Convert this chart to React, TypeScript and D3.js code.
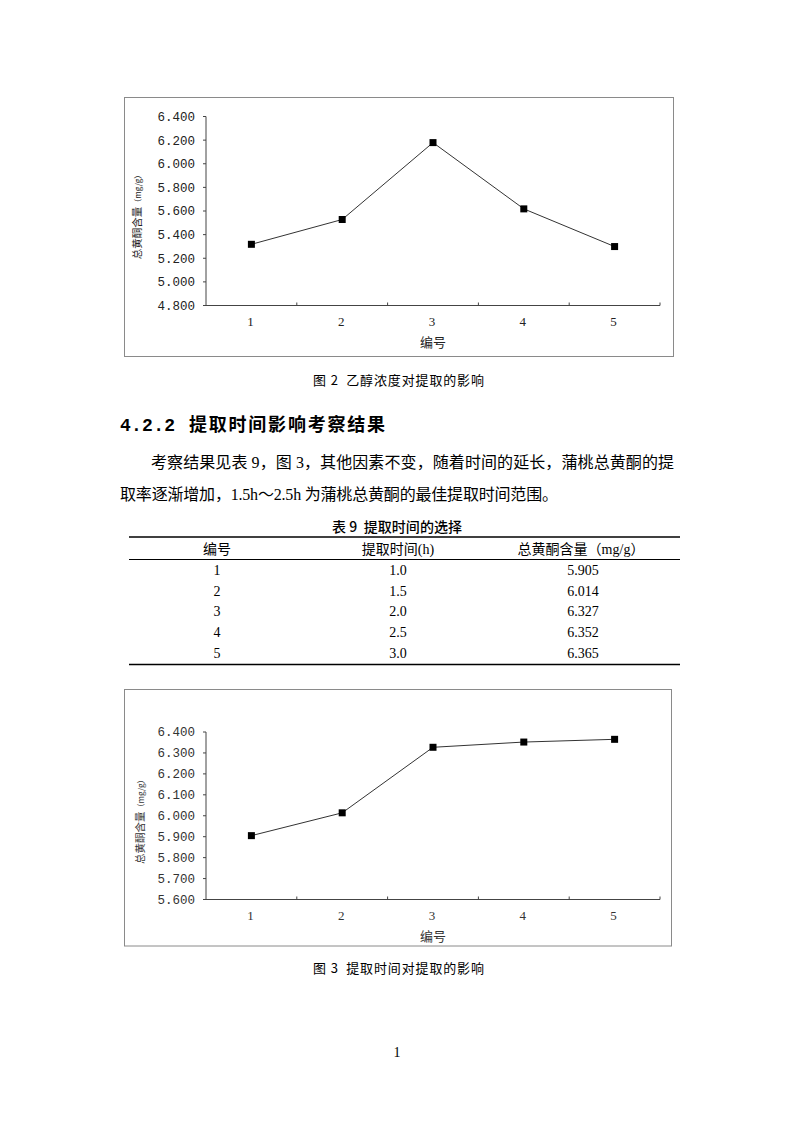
import React from "react";
import * as d3 from "d3";

const categories = ["1", "2", "3", "4", "5"];
const ethanolContent = [5.318, 5.528, 6.179, 5.618, 5.299];
const ethanolTicks = [4.8, 5.0, 5.2, 5.4, 5.6, 5.8, 6.0, 6.2, 6.4];
const timeHours = ["1.0", "1.5", "2.0", "2.5", "3.0"];
const timeContent = [5.905, 6.014, 6.327, 6.352, 6.365];
const timeTicks = [5.6, 5.7, 5.8, 5.9, 6.0, 6.1, 6.2, 6.3, 6.4];
const tableHeaders = ["编号", "提取时间(h)", "总黄酮含量（mg/g）"];

const CJK = '"Noto Sans CJK SC", sans-serif';
const SERIF = '"Liberation Serif", "Noto Sans CJK SC", serif';
const MONO = '"Liberation Mono", monospace';

type ChartProps = {
  frame: [number, number, number, number];
  plot: { left: number; right: number; top: number; bottom: number };
  ticks: number[];
  values: number[];
  yTitleX: number;
  labelColor: string;
};

function LineChart({ frame, plot, ticks, values, yTitleX, labelColor }: ChartProps) {
  const xs = d3.scaleBand<string>().domain(categories).range([plot.left, plot.right]);
  const ys = d3
    .scaleLinear()
    .domain([ticks[0], ticks[ticks.length - 1]])
    .range([plot.bottom, plot.top]);
  const cx = (i: number) => (xs(categories[i]) as number) + xs.bandwidth() / 2;
  const line = d3
    .line<number>()
    .x((_, i) => cx(i))
    .y((d) => ys(d));
  const fmt = d3.format(".3f");
  const [fx, fy, fw, fh] = frame;
  const midY = (plot.top + plot.bottom) / 2;
  const midX = (plot.left + plot.right) / 2;
  return (
    <g>
      <rect x={fx} y={fy} width={fw} height={fh} fill="#fff" stroke="#8a8a8a" strokeWidth={1} />
      <line x1={plot.left} x2={plot.left} y1={plot.top} y2={plot.bottom} stroke="#444" />
      {ticks.map((t) => (
        <g key={t}>
          <line x1={plot.left - 3} x2={plot.left} y1={ys(t)} y2={ys(t)} stroke="#444" />
          <text
            x={plot.left - 11}
            y={ys(t)}
            dy="0.35em"
            textAnchor="end"
            fontFamily={MONO}
            fontSize={12.5}
            fill={labelColor}
          >
            {fmt(t)}
          </text>
        </g>
      ))}
      <line x1={plot.left} x2={plot.right} y1={plot.bottom} y2={plot.bottom} stroke="#444" />
      {categories.map((c) => (
        <g key={c}>
          <line
            x1={(xs(c) as number) + xs.bandwidth()}
            x2={(xs(c) as number) + xs.bandwidth()}
            y1={plot.bottom - 3}
            y2={plot.bottom}
            stroke="#444"
          />
          <text
            x={(xs(c) as number) + xs.bandwidth() / 2 - 1}
            y={plot.bottom + 16}
            dy="0.35em"
            textAnchor="middle"
            fontFamily={SERIF}
            fontSize={13}
            fill={labelColor}
          >
            {c}
          </text>
        </g>
      ))}
      <text
        x={midX}
        y={plot.bottom + 37}
        dy="0.35em"
        textAnchor="middle"
        fontFamily={CJK}
        fontSize={13}
        fill={labelColor}
      >
        编号
      </text>
      <text
        transform={`translate(${yTitleX},${midY + 4}) rotate(-90)`}
        textAnchor="middle"
        dy="0.35em"
        fontFamily={CJK}
        fill={labelColor}
      >
        <tspan fontSize={10.5}>总黄酮含量</tspan>
        <tspan fontSize={8}>（mg/g）</tspan>
      </text>
      <path d={line(values) || ""} fill="none" stroke="#333" strokeWidth={1} />
      {values.map((v, i) => (
        <rect key={i} x={cx(i) - 3.5} y={ys(v) - 3.5} width={7} height={7} fill="#000" />
      ))}
    </g>
  );
}

export default function App() {
  const colX = [217, 398, 581];
  const rowY = [569.5, 590.5, 611, 632, 652.5];
  return (
    <svg
      width={794}
      height={1123}
      viewBox="0 0 794 1123"
      style={{ position: "absolute", left: 0, top: 0, background: "#fff" }}
    >
      <rect x={0} y={0} width={794} height={1123} fill="#fff" />
      <LineChart
        frame={[124.5, 97.5, 549, 259]}
        plot={{ left: 206, right: 660, top: 116.5, bottom: 305.5 }}
        ticks={ethanolTicks}
        values={ethanolContent}
        yTitleX={135}
        labelColor="#222"
      />
      <text x={313} y={385} fontFamily={CJK} fontSize={13} fill="#000" textLength={171} lengthAdjust="spacing" style={{ whiteSpace: "pre" }}>
        {"图 2  乙醇浓度对提取的影响"}
      </text>

      <text x={120} y={431} fontFamily={MONO} fontWeight="bold" fontSize={18} textLength={55} lengthAdjust="spacing" fill="#000">
        4.2.2
      </text>
      <text x={189} y={431} fontFamily={CJK} fontWeight="bold" fontSize={18} textLength={196} lengthAdjust="spacing" fill="#000">
        提取时间影响考察结果
      </text>

      <text x={151} y={468} fontFamily={SERIF} fontSize={16} textLength={523} lengthAdjust="spacing" fill="#000">
        考察结果见表 9，图 3，其他因素不变，随着时间的延长，蒲桃总黄酮的提
      </text>
      <text x={120} y={500} fontFamily={SERIF} fontSize={16} textLength={438} lengthAdjust="spacing" fill="#000">
        取率逐渐增加，1.5h～2.5h 为蒲桃总黄酮的最佳提取时间范围。
      </text>

      <text x={332} y={532} fontFamily={CJK} fontSize={14} fontWeight={500} fill="#000" textLength={130} lengthAdjust="spacing" style={{ whiteSpace: "pre" }}>
        {"表 9  提取时间的选择"}
      </text>
      <line x1={129} x2={680} y1={537} y2={537} stroke="#000" strokeWidth={1.5} />
      {tableHeaders.map((h, i) => (
        <text key={h} x={colX[i]} y={554} textAnchor="middle" fontFamily={SERIF} fontSize={14} fill="#000">
          {h}
        </text>
      ))}
      <line x1={129} x2={680} y1={559.5} y2={559.5} stroke="#000" strokeWidth={1} />
      {categories.map((c, i) => (
        <g key={c}>
          <text x={colX[0]} y={rowY[i] + 5} textAnchor="middle" fontFamily={SERIF} fontSize={14} fill="#000">
            {c}
          </text>
          <text x={colX[1]} y={rowY[i] + 5} textAnchor="middle" fontFamily={SERIF} fontSize={14} fill="#000">
            {timeHours[i]}
          </text>
          <text x={colX[2] + 2} y={rowY[i] + 5} textAnchor="middle" fontFamily={SERIF} fontSize={14} fill="#000">
            {d3.format(".3f")(timeContent[i])}
          </text>
        </g>
      ))}
      <line x1={129} x2={680} y1={664.5} y2={664.5} stroke="#000" strokeWidth={1.5} />

      <LineChart
        frame={[124.5, 689.5, 547, 256.5]}
        plot={{ left: 206, right: 660, top: 732, bottom: 899.5 }}
        ticks={timeTicks}
        values={timeContent}
        yTitleX={138}
        labelColor="#333"
      />
      <text x={313} y={973} fontFamily={CJK} fontSize={13} fill="#000" textLength={171} lengthAdjust="spacing" style={{ whiteSpace: "pre" }}>
        {"图 3  提取时间对提取的影响"}
      </text>
      <text x={397} y={1057} textAnchor="middle" fontFamily={SERIF} fontSize={14} fill="#000">
        1
      </text>
    </svg>
  );
}
